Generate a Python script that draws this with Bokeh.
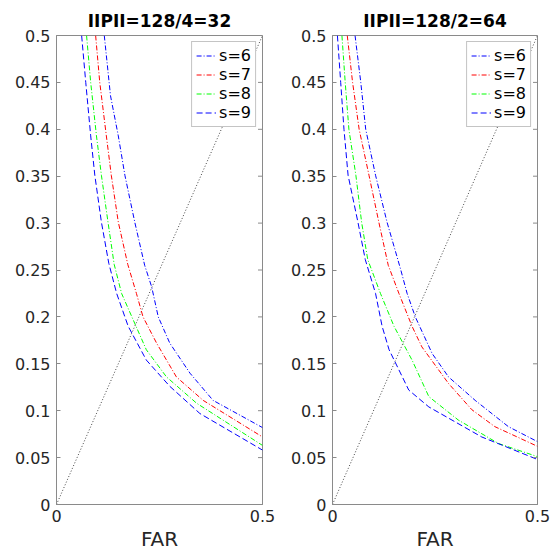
from bokeh.plotting import figure
from bokeh.models import FixedTicker, Range1d
from bokeh.layouts import row
from bokeh.embed import file_html
from bokeh.resources import INLINE

# ---- data ----
titles = ["IIPII=128/4=32", "IIPII=128/2=64"]
labels = ["s=6", "s=7", "s=8", "s=9"]
y_ticks = [0, 0.05, 0.1, 0.15, 0.2, 0.25, 0.3, 0.35, 0.4, 0.45, 0.5]
y_tick_labels = ["0", "0.05", "0.1", "0.15", "0.2", "0.25", "0.3", "0.35", "0.4", "0.45", "0.5"]
x_ticks = [0, 0.5]
x_tick_labels = ["0", "0.5"]
diag_x = [0, 0.5]
diag_y = [0, 0.5]
x_max = 0.5

# left panel (|P| = 32)
a_s6_x = [0.116, 0.131, 0.150, 0.166, 0.190, 0.214, 0.231, 0.247, 0.275, 0.324, 0.380, 0.5]
a_s6_y = [0.5, 0.436, 0.393, 0.351, 0.301, 0.255, 0.232, 0.200, 0.172, 0.140, 0.111, 0.082]
a_s7_x = [0.095, 0.105, 0.121, 0.133, 0.150, 0.173, 0.194, 0.210, 0.243, 0.291, 0.356, 0.5]
a_s7_y = [0.5, 0.450, 0.393, 0.351, 0.301, 0.256, 0.225, 0.200, 0.172, 0.136, 0.111, 0.072]
a_s8_x = [0.073, 0.083, 0.097, 0.109, 0.125, 0.140, 0.158, 0.193, 0.218, 0.267, 0.340, 0.5]
a_s8_y = [0.5, 0.450, 0.393, 0.351, 0.301, 0.256, 0.225, 0.190, 0.165, 0.136, 0.108, 0.063]
a_s9_x = [0.061, 0.071, 0.083, 0.093, 0.109, 0.127, 0.146, 0.174, 0.218, 0.275, 0.348, 0.5]
a_s9_y = [0.5, 0.450, 0.393, 0.351, 0.301, 0.257, 0.225, 0.190, 0.154, 0.126, 0.097, 0.058]

# right panel (|P| = 64)
b_s6_x = [0.055, 0.069, 0.081, 0.105, 0.133, 0.166, 0.182, 0.202, 0.243, 0.283, 0.348, 0.429, 0.5]
b_s6_y = [0.5, 0.450, 0.400, 0.351, 0.301, 0.251, 0.225, 0.200, 0.161, 0.136, 0.111, 0.083, 0.067]
b_s7_x = [0.036, 0.049, 0.065, 0.089, 0.113, 0.136, 0.162, 0.194, 0.218, 0.283, 0.340, 0.396, 0.5]
b_s7_y = [0.5, 0.450, 0.400, 0.351, 0.301, 0.255, 0.225, 0.190, 0.168, 0.129, 0.101, 0.083, 0.062]
b_s8_x = [0.023, 0.031, 0.040, 0.057, 0.071, 0.086, 0.117, 0.150, 0.194, 0.235, 0.307, 0.405, 0.5]
b_s8_y = [0.5, 0.450, 0.400, 0.351, 0.301, 0.261, 0.225, 0.190, 0.154, 0.115, 0.090, 0.065, 0.051]
b_s9_x = [0.012, 0.020, 0.028, 0.038, 0.062, 0.080, 0.105, 0.121, 0.138, 0.186, 0.235, 0.364, 0.5]
b_s9_y = [0.5, 0.450, 0.400, 0.351, 0.301, 0.261, 0.225, 0.190, 0.165, 0.122, 0.104, 0.072, 0.048]

panels = [
    [(a_s6_x, a_s6_y), (a_s7_x, a_s7_y), (a_s8_x, a_s8_y), (a_s9_x, a_s9_y)],
    [(b_s6_x, b_s6_y), (b_s7_x, b_s7_y), (b_s8_x, b_s8_y), (b_s9_x, b_s9_y)],
]

colors = ["#0000ff", "#ff0000", "#00ff00", "#0000ff"]
dashes = ["5 2 1 2", "5 2 1 2", "5 2 1 2", "6 3"]

FONT = "DejaVu Sans"
GREY = "#8a8a8a"
TXT = "#262626"


def make_panel(title, series, left_border, frame_w, right_border):
    p = figure(width=left_border + frame_w + right_border, height=553,
               output_backend="svg", toolbar_location=None,
               x_range=Range1d(0, 0.5), y_range=Range1d(0, 0.5),
               min_border_left=left_border, min_border_right=right_border,
               min_border_top=35, min_border_bottom=49)
    p.title.text = title
    p.title.text_font = FONT
    p.title.text_font_style = "bold"
    p.title.text_font_size = "17px"
    p.title.align = "center"
    p.title.text_color = "#000000"
    p.title.standoff = 10
    p.grid.visible = False
    p.outline_line_color = GREY
    p.outline_line_width = 1
    p.background_fill_color = "white"
    p.border_fill_color = "white"

    p.line(diag_x, diag_y, line_color="#444444", line_width=1, line_dash="1 2")
    for (xs, ys), lab, c, d in zip(series, labels, colors, dashes):
        p.line(xs, ys, line_color=c, line_width=1, line_dash=d, legend_label=lab)

    # inward ticks on the right edge (clipped to the frame)
    p.scatter([x_max] * len(y_ticks), y_ticks, marker="dash", size=9,
              line_color=GREY, line_width=1)

    for ax in (p.xaxis[0], p.yaxis[0]):
        ax.axis_line_color = GREY
        ax.major_tick_line_color = GREY
        ax.major_tick_in = 4
        ax.major_tick_out = 0
        ax.minor_tick_line_color = None
        ax.major_label_text_font = FONT
        ax.major_label_text_font_size = "16px"
        ax.major_label_text_color = TXT
    p.yaxis[0].ticker = FixedTicker(ticks=y_ticks)
    p.yaxis[0].major_label_overrides = dict(zip(y_ticks, y_tick_labels))
    p.yaxis[0].major_label_standoff = 6
    p.xaxis[0].ticker = FixedTicker(ticks=x_ticks)
    p.xaxis[0].major_label_overrides = dict(zip(x_ticks, x_tick_labels))
    p.xaxis[0].major_label_standoff = 5
    p.xaxis[0].axis_label = "FAR"
    p.xaxis[0].axis_label_text_font = FONT
    p.xaxis[0].axis_label_text_font_size = "20px"
    p.xaxis[0].axis_label_text_font_style = "normal"
    p.xaxis[0].axis_label_text_color = TXT
    p.xaxis[0].axis_label_standoff = 2

    lg = p.legend[0]
    lg.location = "top_right"
    lg.margin = 6
    lg.padding = 4
    lg.spacing = 0
    lg.glyph_width = 20
    lg.glyph_height = 19
    lg.label_height = 19
    lg.label_width = 10
    lg.label_standoff = 3
    lg.label_text_font = FONT
    lg.label_text_font_size = "16px"
    lg.label_text_color = "#000000"
    lg.border_line_color = GREY
    lg.border_line_width = 1
    lg.background_fill_color = "white"
    lg.background_fill_alpha = 1
    return p


p1 = make_panel(titles[0], panels[0], 56, 206, 14)
p2 = make_panel(titles[1], panels[1], 56, 205, 15)
layout = row(p1, p2)

open("out.html", "w").write(file_html(layout, INLINE))
